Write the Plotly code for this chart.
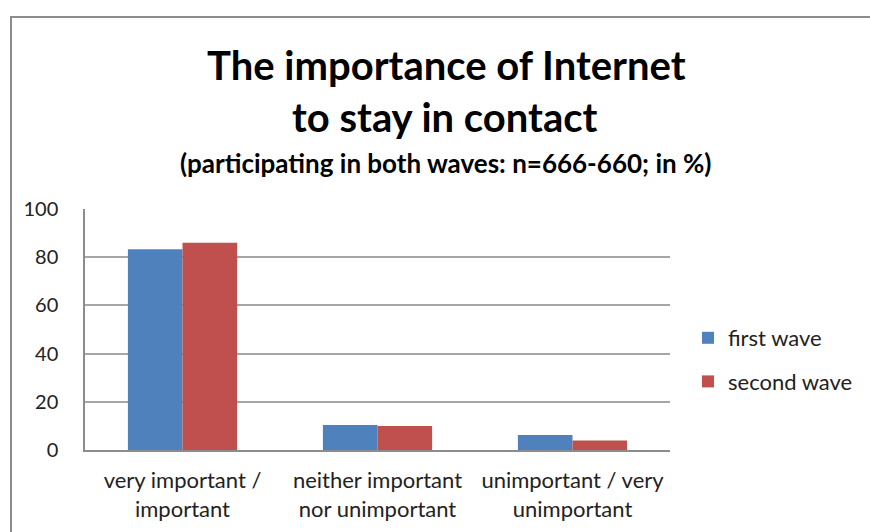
import plotly.graph_objects as go

categories = ["very important /<br>important", "neither important<br>nor unimportant", "unimportant / very<br>unimportant"]
first_wave = [83.3, 10.4, 6.2]
second_wave = [86.0, 10.0, 3.9]
y_ticks = [0, 20, 40, 60, 80, 100]

FONT = "Lato, Open Sans, sans-serif"
TEXT = "#222222"

fig = go.Figure()
fig.add_trace(go.Bar(name="first wave", x=categories, y=first_wave,
                     marker=dict(color="#4f81bd", line=dict(width=0)),
                     legendgroup="a"))
fig.add_trace(go.Bar(name="second wave", x=categories, y=second_wave,
                     marker=dict(color="#c0504d", line=dict(width=0)),
                     legendgroup="b"))

# plot area: x 85..670 px, y 209..450 px
L, R, T, B = 85, 670, 209, 450
W, H = 870, 532
def px(x):
    return (x - L) / (R - L)
def py(y):
    return (B - y) / (B - T)

# outer chart frame
fig.add_shape(type="rect", xref="paper", yref="paper",
              x0=px(11), x1=px(880), y0=py(17), y1=py(560),
              line=dict(color="#8c8c8c", width=2), fillcolor="rgba(0,0,0,0)", layer="below")

fig.add_annotation(text="<b>The importance of Internet</b>", xref="paper", yref="paper",
                   x=px(446), y=py(65), xanchor="center", yanchor="middle", showarrow=False,
                   font=dict(family=FONT, size=40, color="#000000"))
fig.add_annotation(text="<b>to stay in contact</b>", xref="paper", yref="paper",
                   x=px(445), y=py(117), xanchor="center", yanchor="middle", showarrow=False,
                   font=dict(family=FONT, size=40, color="#000000"))
fig.add_annotation(text="<b>(participating in both waves: n=666-660; in %)</b>", xref="paper", yref="paper",
                   x=px(445), y=py(163), xanchor="center", yanchor="middle", showarrow=False,
                   font=dict(family=FONT, size=26, color="#000000"))

fig.update_layout(
    width=W, height=H,
    margin=dict(l=L, r=W - R, t=T, b=H - B, pad=0, autoexpand=False),
    paper_bgcolor="white", plot_bgcolor="white",
    barmode="group", bargap=0.44, bargroupgap=0,
    showlegend=True,
    legend=dict(x=px(688), y=py(317), xanchor="left", yanchor="top",
                font=dict(family=FONT, size=22, color=TEXT),
                tracegroupgap=12, itemwidth=30, bgcolor="rgba(0,0,0,0)"),
    font=dict(family=FONT, color=TEXT),
    xaxis=dict(showline=True, linecolor="#8c8c8c", linewidth=1.5, automargin=False,
               tickfont=dict(family=FONT, size=22, color=TEXT),
               ticks="", showgrid=False, ticklabelstandoff=10),
    yaxis=dict(range=[0, 100], tickvals=y_ticks, showline=True, linecolor="#8c8c8c", linewidth=1.5,
               automargin=False, showgrid=True, gridcolor="#a6a6a6", gridwidth=1.5,
               tickfont=dict(family=FONT, size=20, color=TEXT),
               ticks="", ticklabelstandoff=21, zeroline=False),
)

fig.write_html("out.html")
